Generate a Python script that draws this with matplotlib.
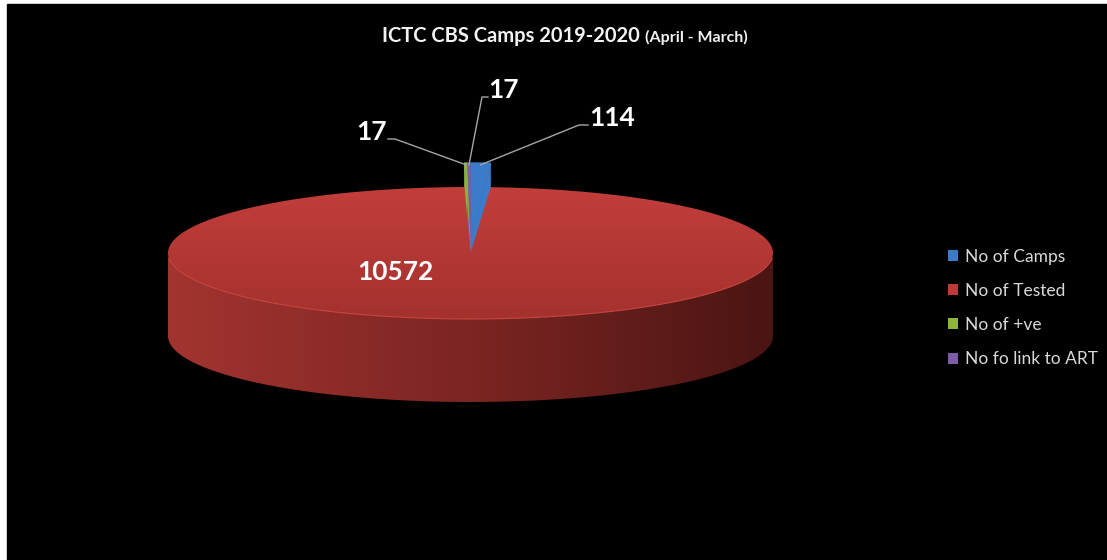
import numpy as np
import matplotlib.pyplot as plt
from matplotlib.patches import Polygon, Rectangle, Patch
from matplotlib.colors import LinearSegmentedColormap

# Data
labels = ["No of Camps", "No of Tested", "No of +ve", "No fo link to ART"]
values = [114, 10572, 17, 17]
colors = ["#3A7CC9", "#BF3B38", "#8CB43F", "#7E5CA8"]

W, H = 1107, 560
fig = plt.figure(figsize=(W / 100, H / 100), dpi=100, facecolor="white")
ax = fig.add_axes([0, 0, 1, 1])
ax.add_patch(Rectangle((7, 4), W - 7, H - 4, color="black", zorder=0))

# pie geometry (pixels)
cx, cy, rx, ry, depth = 470.5, 253, 302.5, 66, 83
lift, kup = 13, 1.17   # small slices pulled back

total = sum(values)
bounds = np.concatenate([[0], np.cumsum(values)]) / total * 360.0

def pt(theta, ccx=cx, ccy=cy, sy=1.0):
    t = np.radians(theta)
    return ccx + rx * np.sin(t), ccy - ry * sy * np.cos(t)

# small slices (exploded to the back), drawn first
big = int(np.argmax(values))
for i in range(len(values)):
    if i == big:
        continue
    a0, a1 = bounds[i], bounds[i + 1]
    tip = (cx, cy - lift)
    th = np.linspace(a0, a1, 20)
    xs, ys = pt(th, cx, cy - lift, kup)
    face_a = a1 if a1 < 180 else a0
    fx, fy = pt(face_a, cx, cy - lift, kup)
    ax.add_patch(Polygon([tip, (fx, fy), (fx, fy + depth), (tip[0], tip[1] + depth)],
                         closed=True, facecolor=colors[i], edgecolor=colors[i],
                         lw=0.5, zorder=2))
    ax.add_patch(Polygon([tip] + list(zip(xs, ys)), closed=True,
                         facecolor=colors[i], edgecolor=colors[i], lw=0.5, zorder=3))

# big slice: side face with horizontal shading
th_side = np.linspace(90, 270, 300)
sx_, sy_ = pt(th_side)
side = Polygon(list(zip(sx_, sy_)) + list(zip(sx_[::-1], sy_[::-1] + depth)),
               closed=True, facecolor="none", edgecolor="none", zorder=4)
ax.add_patch(side)
side_cmap = LinearSegmentedColormap.from_list("side", ["#A23431", "#7C2522", "#4A1513"])
hgrad = np.linspace(0, 1, 256).reshape(1, -1)
ims = ax.imshow(hgrad, cmap=side_cmap, extent=(cx - rx, cx + rx, cy + ry + depth, cy - ry),
                aspect="auto", zorder=4, interpolation="bilinear")
ims.set_clip_path(side)

# big slice: top face with vertical gradient
a0, a1 = bounds[big], bounds[big + 1]
th = np.linspace(a0, a1, 400)
xs, ys = pt(th)
top = Polygon([(cx, cy)] + list(zip(xs, ys)), closed=True, facecolor="none",
              edgecolor="none", zorder=5)
ax.add_patch(top)
top_cmap = LinearSegmentedColormap.from_list("top", ["#C23E3B", "#A4312E"])
grad = np.linspace(0, 1, 256).reshape(-1, 1)
im = ax.imshow(grad, cmap=top_cmap, extent=(cx - rx, cx + rx, cy + ry, cy - ry),
               aspect="auto", zorder=5, interpolation="bilinear")
im.set_clip_path(top)
rt = np.linspace(95, 265, 200)
rxs, rys = pt(rt)
ax.plot(rxs, rys, color="#C8463F", lw=0.8, zorder=6)

ax.set_xlim(0, W)
ax.set_ylim(H, 0)
ax.axis("off")

# data labels
lab_font = dict(color="white", fontsize=19, fontweight="bold", family="Lato")
label_pos = {0: (612, 118), 1: (395, 272), 2: (372, 132), 3: (504, 90)}
elbow = {0: (579, 125), 2: (395, 139), 3: (482, 97)}
line_start = {0: (588, 125), 2: (388, 139), 3: (488, 97)}
for i, v in enumerate(values):
    ax.text(*label_pos[i], str(v), ha="center", va="center", zorder=8, **lab_font)
    if i == big:
        continue
    mid = (bounds[i] + bounds[i + 1]) / 2
    tx, ty = pt(mid, cx, cy - lift, kup)
    sx, sy = line_start[i]
    ex, ey = elbow[i]
    ax.plot([sx, ex, tx], [sy, ey, ty + 2], color="#A6A6A6", lw=1, zorder=7)

# title
ax.text(640, 36, "ICTC CBS Camps 2019-2020", ha="right", va="center",
        color="#F2F2F2", fontsize=14.5, fontweight="bold", family="Lato")
ax.text(645, 37, "(April - March)", ha="left", va="center",
        color="#F2F2F2", fontsize=11.5, fontweight="bold", family="Lato")

# legend
handles = [Patch(facecolor=c, edgecolor="none") for c in colors]
leg = ax.legend(handles, labels, loc="upper left", bbox_to_anchor=(932 / W, 1 - 233 / H),
                bbox_transform=fig.transFigure, frameon=False, handlelength=0.6,
                handleheight=0.6, handletextpad=0.4, labelspacing=1.05,
                prop=dict(family="Lato", size=12.5), labelcolor="#D9D9D9")

fig.savefig("out.png", dpi=100, facecolor=fig.get_facecolor())
